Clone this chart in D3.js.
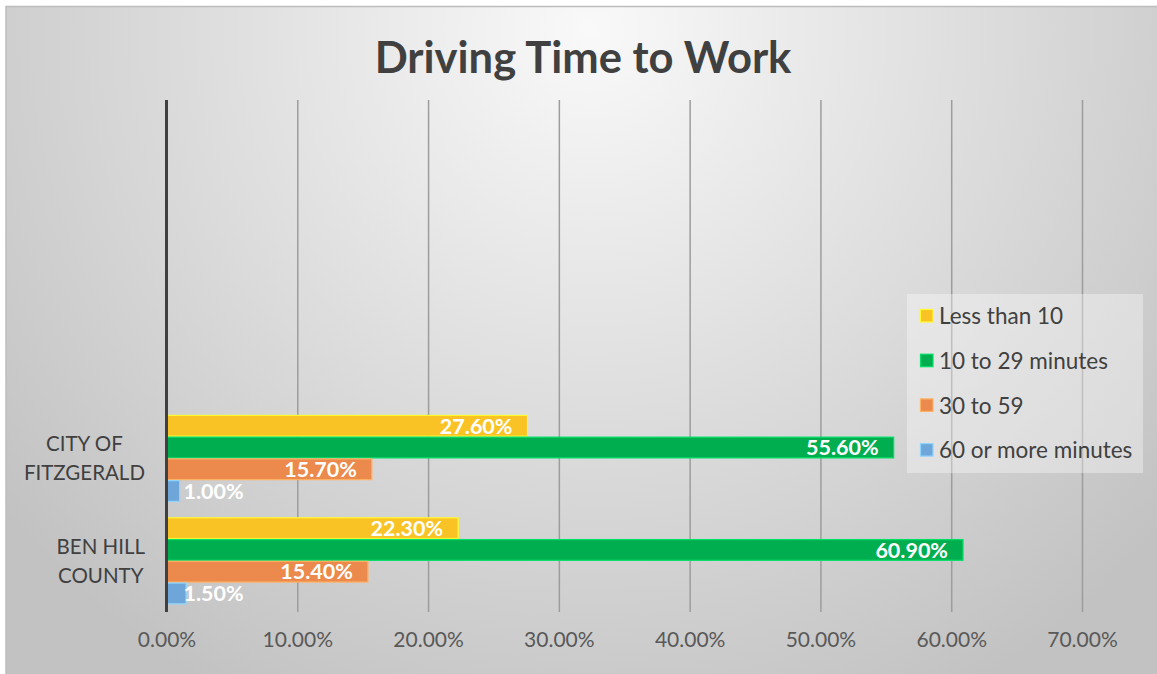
<!DOCTYPE html>
<html>
<head>
<meta charset="utf-8">
<script src="https://cdn.jsdelivr.net/npm/d3@7"></script>
<style>
  body { margin: 0; background: #fff; }
  text { font-family: Lato, "Open Sans", sans-serif; }
</style>
</head>
<body>
<svg id="chart"></svg>
<script>
// chart data
const categories = ["City of Fitzgerald", "Ben Hill County"];
const seriesNames = ["Less than 10", "10 to 29 minutes", "30 to 59", "60 or more minutes"];
const lessThan10 = [0.276, 0.223];
const min10to29 = [0.556, 0.609];
const min30to59 = [0.157, 0.154];
const min60plus = [0.010, 0.015];
const xTicks = [0, 0.1, 0.2, 0.3, 0.4, 0.5, 0.6, 0.7];
const emptySlots = ["_a", "_b", "_c"]; // blank category rows above the data

const seriesValues = [lessThan10, min10to29, min30to59, min60plus];
const colors = ["#fac325", "#00ae50", "#eb8a4c", "#6ea6da"];

const width = 1157, height = 674;
const svg = d3.select("#chart").attr("width", width).attr("height", height);

// background gradient
let defs = svg.append("defs");
let grad = defs.append("radialGradient")
    .attr("id", "bg")
    .attr("gradientUnits", "userSpaceOnUse")
    .attr("cx", 590).attr("cy", 30).attr("r", 760);
grad.append("stop").attr("offset", "0%").attr("stop-color", "#f9f9f9");
grad.append("stop").attr("offset", "100%").attr("stop-color", "#c2c2c2");

svg.append("rect").attr("x", 6).attr("y", 6).attr("width", width - 6).attr("height", height - 6)
    .attr("fill", "url(#bg)");
svg.append("path").attr("d", "M6," + height + "V6.5H" + width)
    .attr("fill", "none").attr("stroke", "#bdbdbd").attr("stroke-width", 1.5);

// scales
let x = d3.scaleLinear().domain([0, 0.7]).range([166.5, 1082]);
let y = d3.scaleBand().domain(emptySlots.concat(categories)).range([100, 612]);
let inner = d3.scaleBand().domain(seriesNames).range([0, y.bandwidth()]).paddingOuter(0.354);

// gridlines
let grid = svg.append("g").attr("transform", "translate(0,612)")
    .call(d3.axisBottom(x).tickValues(xTicks).tickSize(-512).tickFormat(d3.format(".2%")));
grid.select(".domain").remove();
grid.selectAll(".tick line").attr("stroke", (d) => d === 0 ? "none" : "#9d9d9d").attr("stroke-width", 1.5);
grid.selectAll(".tick text")
    .attr("fill", "#595959").attr("font-size", "21px").attr("dy", "1.5em")
    .style("font-family", "Lato, sans-serif");

// bars
let groups = svg.selectAll(".cat").data(categories).enter().append("g")
    .attr("class", "cat")
    .attr("transform", (d) => "translate(0," + y(d) + ")");

groups.each(function(cat, ci) {
    let g = d3.select(this);
    seriesNames.forEach((s, si) => {
        let v = seriesValues[si][ci];
        let col = colors[si];
        g.append("rect")
            .attr("x", x(0))
            .attr("y", inner(s) + 0.5)
            .attr("width", x(v) - x(0))
            .attr("height", inner.bandwidth() - 1)
            .attr("fill", col)
            .attr("stroke", d3.color(col).brighter(0.7))
            .attr("stroke-width", 1.2);
        let label = g.append("text")
            .text(d3.format(".2%")(v))
            .attr("y", inner(s) + inner.bandwidth() / 2)
            .attr("dy", "0.36em")
            .attr("fill", "#fff")
            .attr("font-weight", "bold")
            .attr("font-size", "21.5px");
        let w = label.node().getComputedTextLength();
        if (w + 20 < x(v) - x(0)) {
            label.attr("x", x(v) - 15).attr("text-anchor", "end");
        } else {
            label.attr("x", x(0) + 17).attr("text-anchor", "start");
        }
    });
});

// value axis line at zero
svg.append("line").attr("x1", x(0)).attr("x2", x(0)).attr("y1", 100).attr("y2", 612)
    .attr("stroke", "#404040").attr("stroke-width", 3);

// category labels, two lines, block right-aligned
const catLines = { "City of Fitzgerald": ["CITY OF", "FITZGERALD"], "Ben Hill County": ["BEN HILL", "COUNTY"] };
categories.forEach((c) => {
    let lines = catLines[c];
    let t = svg.append("g");
    let texts = lines.map((ln, i) => t.append("text")
        .text(ln)
        .attr("font-size", "20.5px")
        .attr("fill", "#404040")
        .attr("text-anchor", "middle")
        .attr("y", y(c) + y.bandwidth() / 2 + (i - (lines.length - 1) / 2) * 29)
        .attr("dy", "0.36em"));
    let blockW = d3.max(texts, (tt) => tt.node().getComputedTextLength());
    texts.forEach((tt) => tt.attr("x", 145 - blockW / 2));
});

// legend
let legend = svg.append("g").attr("transform", "translate(907,294)");
legend.append("rect").attr("width", 236).attr("height", 179)
    .attr("fill", "#ffffff").attr("fill-opacity", 0.35);
let items = legend.selectAll(".item").data(seriesNames).enter().append("g")
    .attr("class", "item")
    .attr("transform", (d, i) => "translate(13," + (22 + i * 44.7) + ")");
items.append("rect").attr("x", 0.5).attr("y", -6.5).attr("width", 12.5).attr("height", 12.5)
    .attr("fill", (d, i) => colors[i])
    .attr("stroke", (d, i) => d3.color(colors[i]).brighter(0.7)).attr("stroke-width", 1.2);
items.append("text").attr("x", 19).attr("dy", "0.36em")
    .attr("font-size", "22.5px").attr("fill", "#404040")
    .text((d) => d);

// title
svg.append("text").attr("x", 583).attr("y", 73)
    .attr("text-anchor", "middle")
    .attr("font-size", "43.5px").attr("font-weight", "bold").attr("fill", "#404040")
    .text("Driving Time to Work");
</script>
</body>
</html>
